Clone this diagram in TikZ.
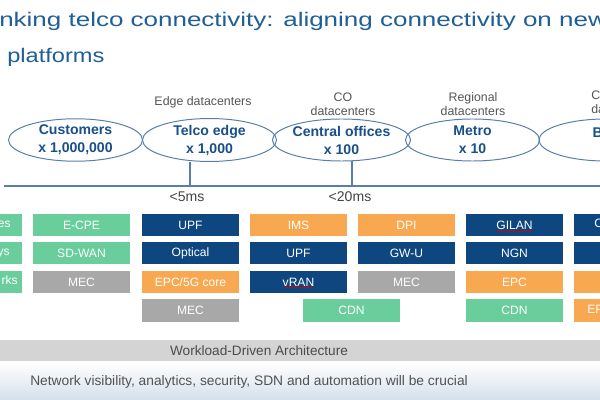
\documentclass[tikz,border=0pt]{standalone}
\usepackage{fontspec}
\setmainfont{Liberation Sans}
\usetikzlibrary{positioning,shapes.geometric,decorations.pathmorphing}

\definecolor{titleBlue}{RGB}{31,94,150}
\definecolor{siteText}{RGB}{25,80,138}
\definecolor{siteLine}{RGB}{88,126,170}
\definecolor{labelGray}{RGB}{85,85,85}
\definecolor{fnGreen}{RGB}{106,206,156}
\definecolor{fnNavy}{RGB}{14,70,128}
\definecolor{fnOrange}{RGB}{248,168,80}
\definecolor{fnGray}{RGB}{168,168,168}
\definecolor{bandGray}{RGB}{212,212,212}
\definecolor{noteBlue}{RGB}{212,224,236}

\tikzstyle{titleText}=[text=titleBlue, inner sep=0pt, font=\fontsize{14}{16}\selectfont]
\tikzstyle{siteNode}=[draw=siteLine, ellipse, line width=0.7pt, minimum width=3.35cm, minimum height=1.05cm, inner sep=0pt, align=center, text=siteText, font=\fontsize{10}{12.8}\selectfont\bfseries]
\tikzstyle{tierLabel}=[text=labelGray, inner sep=0pt, align=center, font=\fontsize{8.8}{10}\selectfont]
\tikzstyle{latency}=[text=labelGray!80!black, inner sep=0pt, font=\fontsize{10}{12}\selectfont]
\tikzstyle{backhaul}=[draw=siteLine, line width=1.1pt]
\tikzstyle{fnBox}=[minimum width=2.425cm, minimum height=0.55cm, inner sep=0pt, text=white, font=\fontsize{8.6}{10}\selectfont]
\tikzstyle{greenBox}=[fnBox, fill=fnGreen]
\tikzstyle{navyBox}=[fnBox, fill=fnNavy]
\tikzstyle{orangeBox}=[fnBox, fill=fnOrange]
\tikzstyle{grayBox}=[fnBox, fill=fnGray]
\tikzstyle{boxText}=[text=white, inner sep=0pt, font=\fontsize{8.6}{10}\selectfont]
\tikzstyle{spellMark}=[draw=red!85!black, line width=0.4pt, decorate, decoration={snake, amplitude=0.45pt, segment length=2.4pt}]
\tikzstyle{bandText}=[text=black!70, inner sep=0pt, font=\fontsize{9.7}{11}\selectfont]

\begin{document}
\begin{tikzpicture}[x=0.025cm, y=-0.025cm]
	\useasboundingbox (0,0) rectangle (600,400);
	\clip (0,0) rectangle (600,400);
	\fill[white] (0,0) rectangle (600,400);

	% title
	\node[titleText, anchor=base west] (title1) at (-1,27) {\scalebox{1.32}[1]{nking telco connectivity: aligning connectivity on new}};
	\node[titleText, anchor=base west] (title2) at (7,63) {\scalebox{1.2}[1]{platforms}};

	% tiers
	\node[tierLabel] (edgeDc) at (203,102) {Edge datacenters};
	\node[tierLabel] (coDc) at (343,104) {CO\\datacenters};
	\node[tierLabel] (regDc) at (473,104) {Regional\\datacenters};
	\node[tierLabel, align=left, anchor=north west] (coreDc) at (591,91) {C\\da};

	\node[siteNode] (customers) at (75.5,140) {Customers\\x 1,000,000};
	\node[siteNode] (telco) at (209.5,140) {Telco edge\\x 1,000};
	\node[siteNode] (central) at (341.5,140) {Central offices\\x 100};
	\node[siteNode] (metro) at (472.5,140) {Metro\\x 10};
	\node[siteNode] (backbone) at (606,140) {};
	\node[siteNode, draw=none, anchor=base west, minimum width=0pt, minimum height=0pt] (backboneTxt) at (590,138) {B};

	% backhaul line
	\coordinate (busW) at (4,186);
	\coordinate (busE) at (600,186);
	\coordinate (tapEdge) at (190,186);
	\coordinate (tapCO) at (352,186);
	\draw[backhaul] (busW) -- (busE);
	\draw[backhaul] (tapEdge |- telco.south) -- (tapEdge);
	\draw[backhaul] (tapCO |- central.south) -- (tapCO);

	\node[latency, anchor=base] (lat5) at (187,202) {<5ms};
	\node[latency, anchor=base] (lat20) at (350,202) {<20ms};

	% workloads
	\node[greenBox] (cust1) at (-26.5,225) {};
	\node[greenBox] (cust2) at (-26.5,253) {};
	\node[greenBox] (cust3) at (-26.5,282) {};
	\node[boxText, anchor=base east] at (11,228) {es};
	\node[boxText, anchor=base east] at (10,256) {ys};
	\node[boxText, anchor=base east] at (18,285) {rks};

	\node[greenBox] (ecpe) at (81.5,225) {E-CPE};
	\node[greenBox] (sdwan) at (81.5,253) {SD-WAN};
	\node[grayBox] (mecA) at (81.5,282) {MEC};

	\node[navyBox] (upfA) at (190.5,225) {UPF};
	\node[navyBox] (optical) at (190.5,253) {Optical};
	\node[orangeBox] (epc5g) at (190.5,282) {EPC/5G core};
	\node[grayBox] (mecB) at (190.5,310.5) {MEC};

	\node[orangeBox] (ims) at (298.5,225) {IMS};
	\node[navyBox] (upfB) at (298.5,253) {UPF};
	\node[navyBox] (vran) at (298.5,282) {vRAN};
	\node[greenBox] (cdnA) at (351.5,310.5) {CDN};

	\node[orangeBox] (dpi) at (406.5,225) {DPI};
	\node[navyBox] (gwu) at (406.5,253) {GW-U};
	\node[grayBox] (mecC) at (406.5,282) {MEC};

	\node[navyBox] (gilan) at (514.5,225) {GILAN};
	\node[navyBox] (ngn) at (514.5,253) {NGN};
	\node[orangeBox] (epc) at (514.5,282) {EPC};
	\node[greenBox] (cdnB) at (514.5,310.5) {CDN};

	\node[navyBox] (core1) at (622.5,225) {};
	\node[navyBox] (core2) at (622.5,253) {};
	\node[orangeBox] (core3) at (622.5,282) {};
	\node[orangeBox] (core4) at (622.5,310.5) {};
	\node[boxText, anchor=base west] at (594,228) {C};
	\node[boxText, anchor=base west] at (587,313.5) {EP};

	\draw[spellMark] ([xshift=-0.45cm,yshift=-0.15cm]gilan.center) -- ([xshift=0.45cm,yshift=-0.15cm]gilan.center);
	\draw[spellMark] ([xshift=-0.37cm,yshift=-0.13cm]vran.center) -- ([xshift=0.37cm,yshift=-0.13cm]vran.center);

	% bottom bands
	\fill[bandGray] (0,340) rectangle (600,362);
	\node[bandText] (wda) at (259,351) {Workload-Driven Architecture};
	\shade[top color=white, bottom color=noteBlue] (0,362) rectangle (600,400);
	\node[bandText, anchor=base west, text=black!68, font=\fontsize{9.8}{11}\selectfont] (note) at (30,386) {Network visibility, analytics, security, SDN and automation will be crucial};
\end{tikzpicture}
\end{document}
